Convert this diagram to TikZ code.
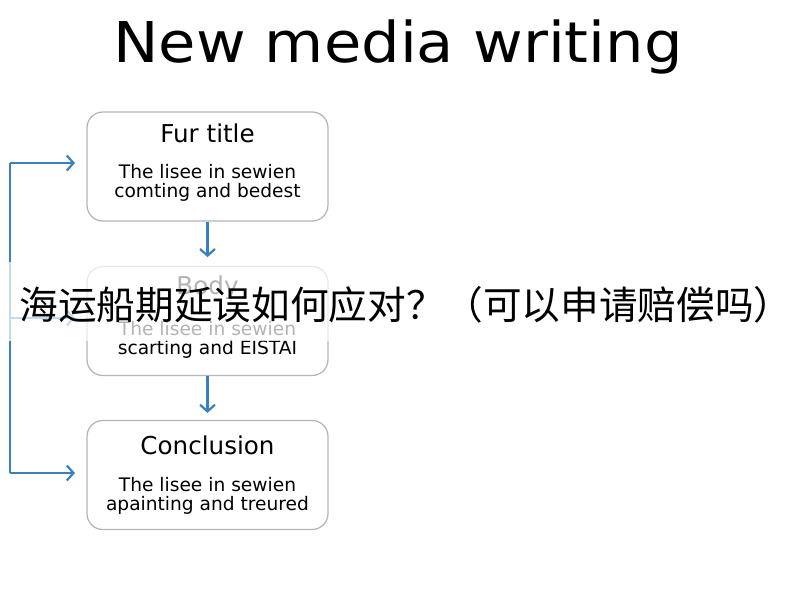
\documentclass[tikz,border=0pt]{standalone}
\usepackage{fontspec}
\setmainfont{DejaVu Sans}
\newfontfamily\cjk{Noto Sans CJK SC}
\usetikzlibrary{positioning,arrows.meta}
\definecolor{flowblue}{RGB}{58,128,192}
\definecolor{boxgray}{RGB}{178,180,184}

\begin{document}
\begin{tikzpicture}[x=0.02cm, y=-0.02cm,
    stage/.style={draw=boxgray, line width=0.7pt, rounded corners=9pt,
        minimum width=4.82cm, minimum height=2.18cm},
    head/.style={font=\fontsize{14}{16}\selectfont},
    lines/.style={align=center, font=\fontsize{10.6}{10.9}\selectfont},
    flow/.style={draw=flowblue, line width=1.25pt,
        -{Straight Barb[length=3.8pt,width=8.5pt]}},
]
\useasboundingbox (0,0) rectangle (800,600);

% Define nodes
\node[font=\fontsize{32}{36}\selectfont, xscale=1.08] (title) at (398,47) {New media writing};

\node[stage] (fur) at (207.5,166.5) {};
\node[stage] (body) at (207.5,321) {};
\node[stage] (concl) at (207.5,475) {};

\node[head] (furhead) at (207.5,133) {Fur title};
\node[lines] (furtext) at (207.5,183) {The lisee in sewien\\comting and bedest};
\node[head] (bodyhead) at (207.5,288) {Body};
\node[lines] (bodytext) at (207.5,339.5) {The lisee in sewien\\scarting and EISTAI};
\node[head] (conclhead) at (207.5,445) {Conclusion};
\node[lines] (concltext) at (207.5,495.5) {The lisee in sewien\\apainting and treured};

\coordinate (looptop) at (10,163);
\coordinate (loopmid) at (10,318);
\coordinate (loopbot) at (10,473);

% Connectors
\draw[flow, shorten >=5pt] (fur.south) -- (body.north);
\draw[flow, shorten >=4pt] (body.south) -- (concl.north);
\draw[draw=flowblue, line width=1.25pt] (loopbot) -- (looptop);
\draw[flow, shorten >=6.5pt] (looptop) -- (looptop -| fur.west);
\draw[flow, shorten >=6.5pt] (loopmid) -- (loopmid -| body.west);
\draw[flow, shorten >=6.5pt] (loopbot) -- (loopbot -| concl.west);

% overlay band
\fill[white, opacity=0.7] (0,262) rectangle (800,341);
\node[font=\cjk\fontsize{22}{24}\selectfont] (banner) at (406,305)
    {海运船期延误如何应对？（可以申请赔偿吗）};
\end{tikzpicture}
\end{document}
